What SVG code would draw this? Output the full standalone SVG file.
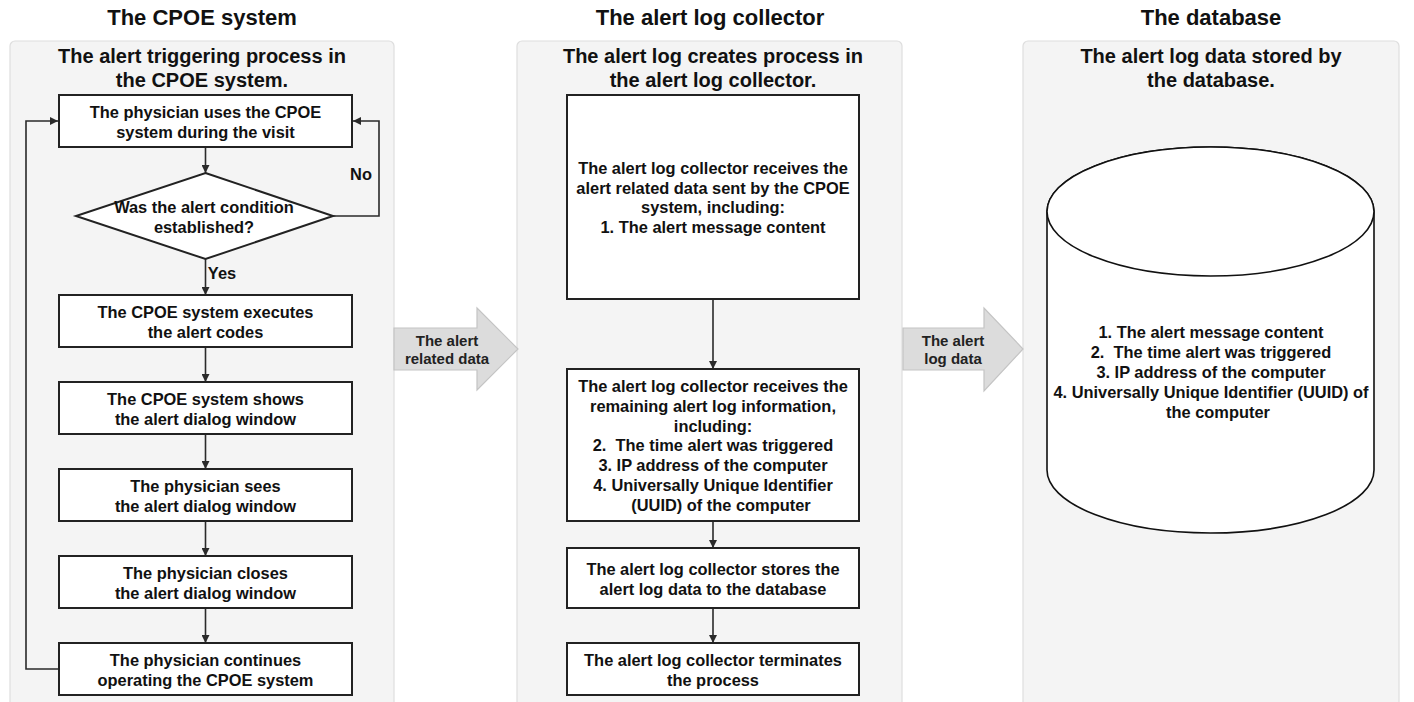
<svg xmlns="http://www.w3.org/2000/svg" width="1414" height="702" viewBox="0 0 1414 702">
<defs>
<style>
text{font-family:"Liberation Sans",Arial,sans-serif;font-weight:bold;fill:#111;text-anchor:middle}
.title{font-size:22px}
.sub{font-size:20px}
.t{font-size:16.4px}
.lbl{font-size:15px;fill:#222}
.panel{fill:#f4f4f4;stroke:#dedede;stroke-width:1.2}
.box{fill:#fff;stroke:#222;stroke-width:2}
.conn{fill:none;stroke:#2a2a2a;stroke-width:1.6}
.big{fill:#dcdcdc;stroke:#c4c4c4;stroke-width:1.2}
.cyl{fill:#fff;stroke:#111;stroke-width:1.6}
</style>
<marker id="ah" viewBox="0 0 10 10" refX="10" refY="5" markerUnits="userSpaceOnUse" markerWidth="8" markerHeight="8" orient="auto">
<path d="M0,0 L10,5 L0,10 z" fill="#2a2a2a"/>
</marker>
</defs>
<rect width="1414" height="702" fill="#fff"/>

<g id="panel-cpoe">
<text class="title" x="202" y="25">The CPOE system</text>
<rect class="panel" x="10" y="41" width="384" height="672" rx="5"/>
<text class="sub" x="202" y="63">The alert triggering process in</text>
<text class="sub" x="202" y="87">the CPOE system.</text>
</g>
<g id="panel-collector">
<text class="title" x="710" y="25">The alert log collector</text>
<rect class="panel" x="517" y="41" width="385" height="672" rx="5"/>
<text class="sub" x="713" y="63">The alert log creates process in</text>
<text class="sub" x="713" y="87">the alert log collector.</text>
</g>
<g id="panel-database">
<text class="title" x="1211" y="25">The database</text>
<rect class="panel" x="1023" y="41" width="376" height="672" rx="5"/>
<text class="sub" x="1211" y="63">The alert log data stored by</text>
<text class="sub" x="1211" y="87">the database.</text>
</g>

<g id="connectors">
<line class="conn" x1="205.5" y1="147" x2="205.5" y2="173" marker-end="url(#ah)"/>
<line class="conn" x1="205.5" y1="259" x2="205.5" y2="295" marker-end="url(#ah)"/>
<line class="conn" x1="205.5" y1="347" x2="205.5" y2="382" marker-end="url(#ah)"/>
<line class="conn" x1="205.5" y1="434" x2="205.5" y2="469" marker-end="url(#ah)"/>
<line class="conn" x1="205.5" y1="521" x2="205.5" y2="556" marker-end="url(#ah)"/>
<line class="conn" x1="205.5" y1="608" x2="205.5" y2="643" marker-end="url(#ah)"/>
<path class="conn" d="M333,216 H379 V121 H353" marker-end="url(#ah)"/>
<path class="conn" d="M59,669 H26 V121 H58" marker-end="url(#ah)"/>
<line class="conn" x1="713" y1="299" x2="713" y2="369" marker-end="url(#ah)"/>
<line class="conn" x1="713" y1="521" x2="713" y2="548" marker-end="url(#ah)"/>
<line class="conn" x1="713" y1="608" x2="713" y2="643" marker-end="url(#ah)"/>
<text class="t" x="361" y="180">No</text>
<text class="t" x="222" y="279">Yes</text>
</g>

<g id="n1">
<rect class="box" x="59" y="95" width="293" height="52"/>
<text class="t" x="205.5" y="118">The physician uses the CPOE</text>
<text class="t" x="205.5" y="138">system during the visit</text>
</g>
<g id="n2">
<polygon class="box" points="205.5,173 333,216 205.5,259 76,216"/>
<text class="t" x="204" y="213">Was the alert condition</text>
<text class="t" x="204" y="233">established?</text>
</g>
<g id="n3">
<rect class="box" x="59" y="295" width="293" height="52"/>
<text class="t" x="205.5" y="318">The CPOE system executes</text>
<text class="t" x="205.5" y="338">the alert codes</text>
</g>
<g id="n4">
<rect class="box" x="59" y="382" width="293" height="52"/>
<text class="t" x="205.5" y="405">The CPOE system shows</text>
<text class="t" x="205.5" y="425">the alert dialog window</text>
</g>
<g id="n5">
<rect class="box" x="59" y="469" width="293" height="52"/>
<text class="t" x="205.5" y="492">The physician sees</text>
<text class="t" x="205.5" y="512">the alert dialog window</text>
</g>
<g id="n6">
<rect class="box" x="59" y="556" width="293" height="52"/>
<text class="t" x="205.5" y="579">The physician closes</text>
<text class="t" x="205.5" y="599">the alert dialog window</text>
</g>
<g id="n7">
<rect class="box" x="59" y="643" width="293" height="52"/>
<text class="t" x="205.5" y="666">The physician continues</text>
<text class="t" x="205.5" y="686">operating the CPOE system</text>
</g>

<g id="arrow-related">
<polygon class="big" points="394,328 477,328 477,308 518,349 477,390 477,370 394,370"/>
<text class="lbl" x="447" y="346">The alert</text>
<text class="lbl" x="447" y="364">related data</text>
</g>

<g id="c1">
<rect class="box" x="567" y="95" width="292" height="204"/>
<text class="t" x="713" y="174">The alert log collector receives the</text>
<text class="t" x="713" y="194">alert related data sent by the CPOE</text>
<text class="t" x="713" y="213">system, including:</text>
<text class="t" x="713" y="233">1. The alert message content</text>
</g>
<g id="c2">
<rect class="box" x="567" y="369" width="292" height="152"/>
<text class="t" x="713" y="392">The alert log collector receives the</text>
<text class="t" x="713" y="412">remaining alert log information,</text>
<text class="t" x="713" y="432">including:</text>
<text class="t" x="713" y="451" xml:space="preserve">2.  The time alert was triggered</text>
<text class="t" x="713" y="471">3. IP address of the computer</text>
<text class="t" x="713" y="491">4. Universally Unique Identifier</text>
<text class="t" x="721" y="511">(UUID) of the computer</text>
</g>
<g id="c3">
<rect class="box" x="567" y="548" width="292" height="60"/>
<text class="t" x="713" y="575">The alert log collector stores the</text>
<text class="t" x="713" y="595">alert log data to the database</text>
</g>
<g id="c4">
<rect class="box" x="567" y="643" width="292" height="52"/>
<text class="t" x="713" y="666">The alert log collector terminates</text>
<text class="t" x="713" y="686">the process</text>
</g>

<g id="arrow-log">
<polygon class="big" points="903,328 984,328 984,308 1023,349 984,391 984,370 903,370"/>
<text class="lbl" x="953" y="346">The alert</text>
<text class="lbl" x="953" y="364">log data</text>
</g>

<g id="db">
<path class="cyl" d="M1047,211.5 V470 A163.5,63 0 0 0 1374,470 V211.5 A163.5,64.5 0 0 0 1047,211.5 Z"/>
<ellipse class="cyl" cx="1210.5" cy="211.5" rx="163.5" ry="64.5"/>
<text class="t" x="1211" y="338">1. The alert message content</text>
<text class="t" x="1211" y="358" xml:space="preserve">2.  The time alert was triggered</text>
<text class="t" x="1211" y="378">3. IP address of the computer</text>
<text class="t" x="1211" y="398">4. Universally Unique Identifier (UUID) of</text>
<text class="t" x="1218" y="418">the computer</text>
</g>
</svg>
